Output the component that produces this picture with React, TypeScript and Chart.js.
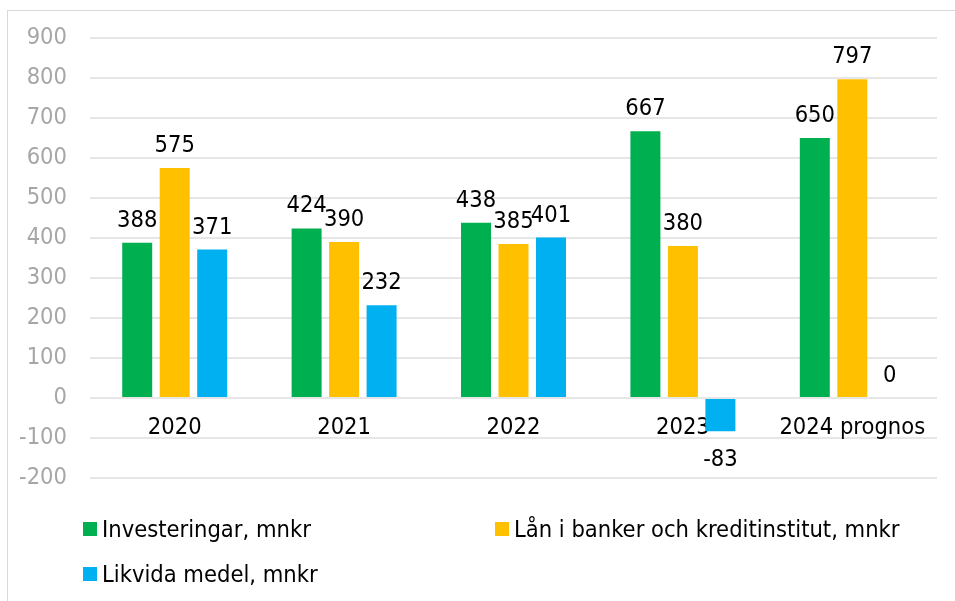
import React, { useEffect, useRef } from "react";
import { Chart, registerables } from "chart.js";

Chart.register(...registerables);

const categories = ["2020", "2021", "2022", "2023", "2024 prognos"];
const investeringar = [388, 424, 438, 667, 650];
const lan = [575, 390, 385, 380, 797];
const likvida = [371, 232, 401, -83, 0];
const seriesNames = [
  "Investeringar, mnkr",
  "Lån i banker och kreditinstitut, mnkr",
  "Likvida medel, mnkr",
];
const seriesColors = ["#00b050", "#ffc000", "#00b0f0"];
const yMin = -200;
const yMax = 900;
const yStep = 100;

const FONT = "'DejaVu Sans Condensed', 'DejaVu Sans', sans-serif";
const FONT_SIZE = 23.5;

const valueLabels = {
  id: "valueLabels",
  afterDatasetsDraw(chart: any) {
    const ctx = chart.ctx;
    ctx.save();
    ctx.font = `${FONT_SIZE}px ${FONT}`;
    ctx.fillStyle = "#000000";
    ctx.textAlign = "center";
    ctx.textBaseline = "alphabetic";
    chart.data.datasets.forEach((ds: any, i: number) => {
      const meta = chart.getDatasetMeta(i);
      meta.data.forEach((bar: any, j: number) => {
        const v = ds.data[j];
        const y = v < 0 ? bar.y + 35 : bar.y - 16;
        ctx.fillText(String(v), bar.x, y);
      });
    });
    ctx.restore();
  },
};

function ChartCanvas() {
  const ref = useRef<HTMLCanvasElement | null>(null);
  useEffect(() => {
    if (!ref.current) return;
    const series = [investeringar, lan, likvida];
    const chart = new Chart(ref.current, {
      type: "bar",
      data: {
        labels: categories,
        datasets: series.map((d, i) => ({
          label: seriesNames[i],
          data: d,
          backgroundColor: seriesColors[i],
          borderWidth: 0,
          barPercentage: 0.8,
          categoryPercentage: 0.664,
        })),
      },
      options: {
        responsive: false,
        animation: false,
        layout: { padding: { left: 0, top: 38, right: 18, bottom: 123 } },
        plugins: {
          legend: { display: false },
          tooltip: { enabled: false },
        },
        scales: {
          x: {
            position: { y: 0 } as any,
            grid: { display: false, drawTicks: false },
            border: { display: false },
            ticks: {
              color: "#000000",
              font: { size: FONT_SIZE, family: FONT },
              padding: 16,
              maxRotation: 0,
              autoSkip: false,
            },
          },
          y: {
            min: yMin,
            max: yMax,
            ticks: {
              stepSize: yStep,
              color: "#a6a6a6",
              font: { size: FONT_SIZE, family: FONT },
              padding: 23,
            },
            grid: { color: "#e6e6e6", lineWidth: 2, drawTicks: false },
            border: { display: false },
            afterFit: (s: any) => {
              s.width = 90;
            },
          },
        },
      },
      plugins: [valueLabels],
    });
    return () => chart.destroy();
  }, []);
  return (
    <canvas
      ref={ref}
      width={955}
      height={601}
      style={{ position: "absolute", left: 0, top: 0, display: "block" }}
    />
  );
}

const legendPos = [
  { left: 83, top: 522 },
  { left: 495, top: 522 },
  { left: 83, top: 567 },
];

export default function App() {
  return (
    <div
      style={{
        position: "fixed",
        left: 0,
        top: 0,
        width: 955,
        height: 601,
        overflow: "hidden",
        background: "#ffffff",
      }}
    >
      <div
        style={{
          position: "absolute",
          left: 7,
          top: 10,
          width: 1000,
          height: 700,
          border: "1px solid #d9d9d9",
        }}
      />
      <ChartCanvas />
      {seriesNames.map((name, i) => (
        <div
          key={name}
          style={{
            position: "absolute",
            left: legendPos[i].left,
            top: legendPos[i].top,
            display: "flex",
            alignItems: "center",
            height: 14,
            fontFamily: FONT,
            fontSize: FONT_SIZE,
            color: "#000000",
            whiteSpace: "nowrap",
          }}
        >
          <span
            style={{
              display: "inline-block",
              width: 14,
              height: 14,
              background: seriesColors[i],
              marginRight: 5,
            }}
          />
          <span>{name}</span>
        </div>
      ))}
    </div>
  );
}
